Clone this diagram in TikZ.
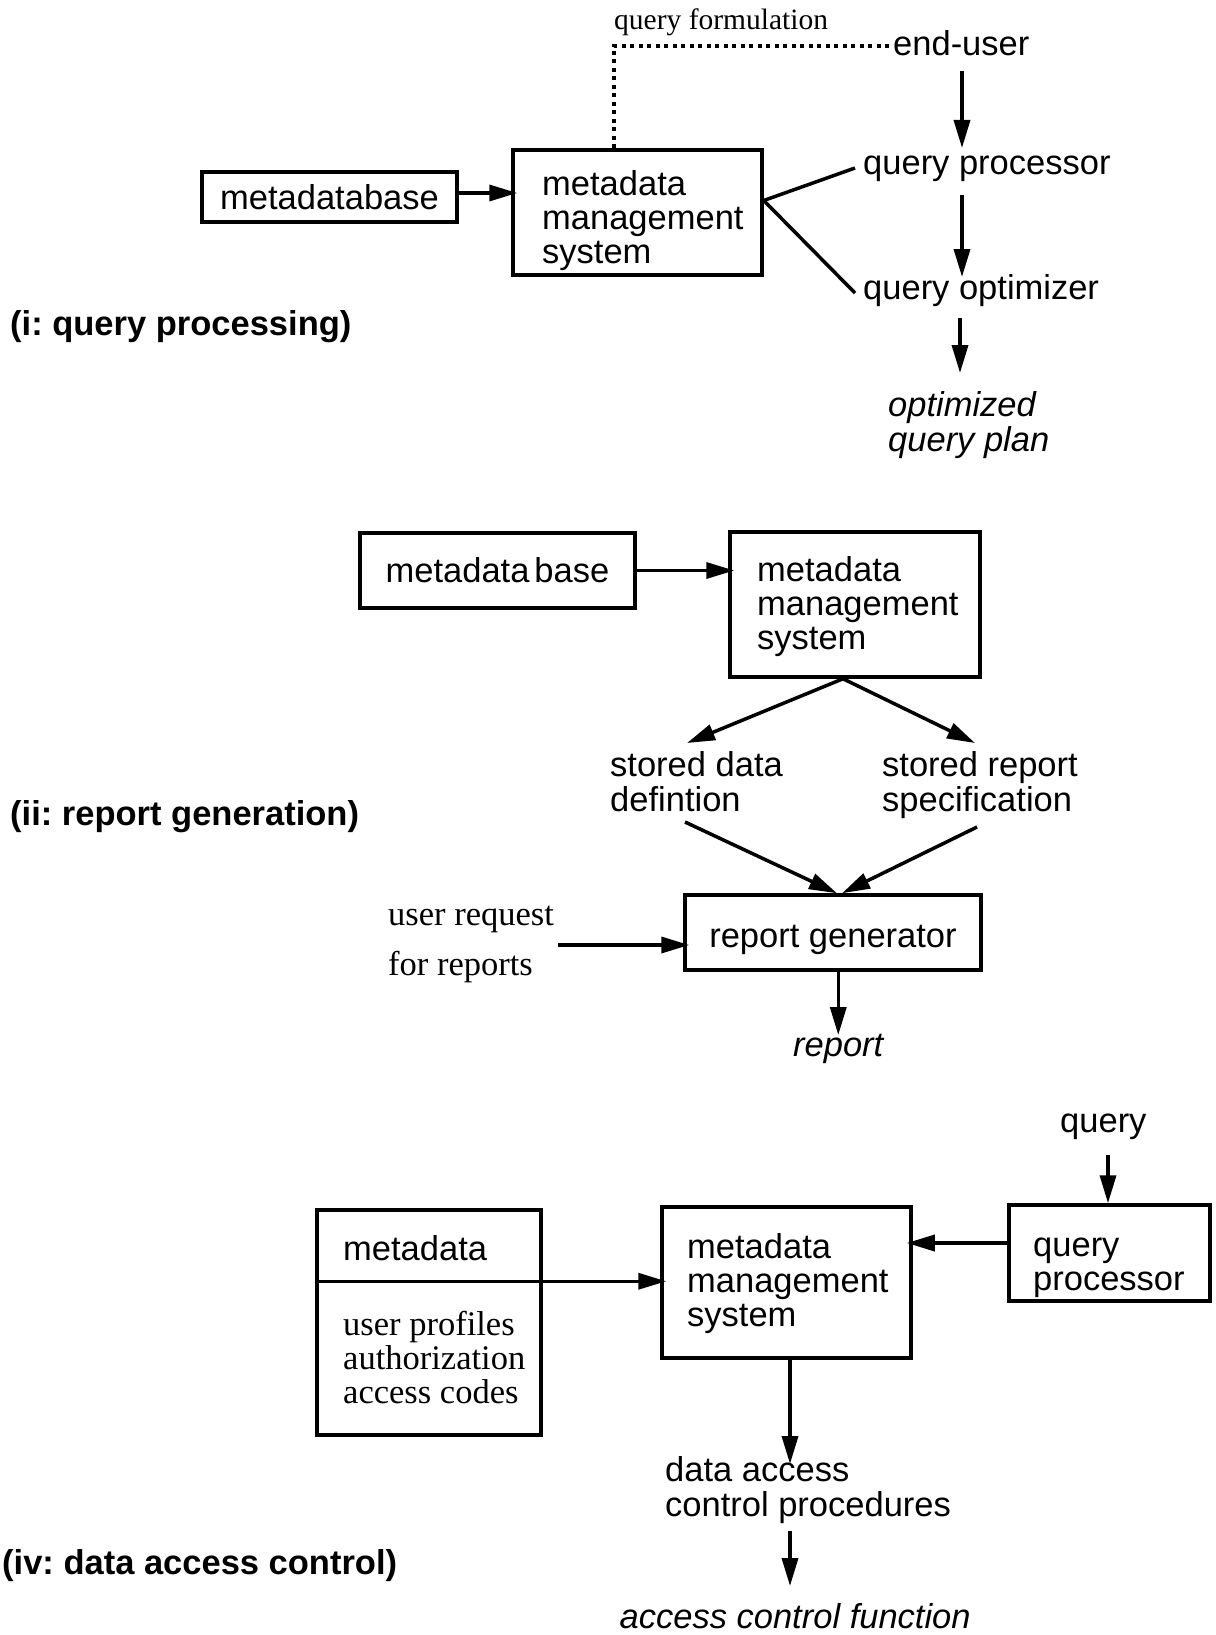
\documentclass[tikz,border=0pt]{standalone}
\usepackage{fontspec}
\setmainfont{Liberation Serif}
\setsansfont{Liberation Sans}
\usetikzlibrary{arrows.meta,fit}
\newcommand\mlines[1]{\begin{tabular}[t]{@{}l@{}}#1\end{tabular}}
\frenchspacing
\begin{document}
\begin{tikzpicture}[x=1pt,y=-1pt,
  box/.style={draw, line width=3.5pt, inner sep=0pt},
  txt/.style={font=\sffamily\fontsize{34.5}{34}\selectfont, inner sep=0pt, anchor=base west},
  itxt/.style={font=\sffamily\itshape\fontsize{34.5}{34}\selectfont, inner sep=0pt, anchor=base west},
  stxt/.style={font=\rmfamily\fontsize{34.5}{34}\selectfont, inner sep=0pt, anchor=base west},
  small/.style={font=\rmfamily\fontsize{29.5}{29.5}\selectfont, inner sep=0pt, anchor=base west},
  lbl/.style={font=\sffamily\bfseries\fontsize{34.5}{34}\selectfont, inner sep=0pt, anchor=base west},
  conn/.style={line width=3.5pt},
  arr/.style={line width=3.5pt, -{Triangle[length=28pt,width=16pt]}},
  dots/.style={line width=4pt, dash pattern=on 4pt off 4.5pt}
]
\useasboundingbox[fill=white] (0,0) rectangle (1215,1635);

% ---------- (i) query processing ----------
\node[box, fit={(202,172) (457,222)}] (mdb1) {};
\node[txt, anchor=base] (mdb1t) at (329.5,209) {metadatabase};
\node[box, fit={(513,150) (762,275)}] (mms1) {};
\node[txt] (mms1t) at (542,195) {\mlines{metadata\\management\\system}};
\node[small] (qf) at (614,30) {query formulation};
\node[txt] (eu) at (893,56) {end-user};
\node[txt] (qp1) at (863,175) {query processor};
\node[txt] (qo1) at (863,299) {query optimizer};
\node[itxt] (plan) at (888,416) {\mlines{optimized\\query plan}};
\node[lbl] (lab1) at (10,335) {(i: query processing)};

\coordinate (a1) at ([yshift=4pt]mdb1.east);
\draw[arr, shorten >=-6pt] (a1) -- (a1 -| mms1.west);
\coordinate (d1) at ([xshift=-23.5pt]mms1.north);
\draw[dots] (d1) |- ([yshift=-2pt]eu.west);
\coordinate (f1) at ([yshift=12pt]mms1.east);
\draw[conn] (f1) -- ([xshift=-8pt,yshift=7pt]qp1.base west);
\draw[conn] (f1) -- ([xshift=-8pt,yshift=6pt]qo1.base west);
\draw[arr] ([xshift=69pt,yshift=-15pt]eu.base west) -- ([xshift=99pt,yshift=27pt]qp1.base west);
\draw[arr] ([xshift=99pt,yshift=-20pt]qp1.base west) -- ([xshift=99pt,yshift=22pt]qo1.base west);
\draw[arr] ([xshift=97pt,yshift=-19pt]qo1.base west) -- ([xshift=72pt,yshift=43pt]plan.base west);

% ---------- (ii) report generation ----------
\node[box, fit={(360,533) (635,608)}] (mdb2) {};
\node[txt, anchor=base] (mdb2t) at (497.5,582) {metadata\hspace{5pt}base};
\node[box, fit={(730,532) (980,677)}] (mms2) {};
\node[txt] (mms2t) at (757,581) {\mlines{metadata\\management\\system}};
\node[txt] (sdd) at (610,776) {\mlines{stored data\\defintion}};
\node[txt] (srs) at (882,776) {\mlines{stored report\\specification}};
\node[box, fit={(685,895) (981,970)}] (rg) {};
\node[txt, anchor=base] (rgt) at (833,947) {report generator};
\node[stxt] (ur) at (388,925) {\mlines{user request\\[16pt]for reports}};
\node[itxt] (rep) at (793,1056) {report};
\node[lbl] (lab2) at (10,825) {(ii: report generation)};

\draw[arr, shorten >=-6pt] (mdb2.east) -- (mdb2.east -| mms2.west);
\coordinate (f2) at ([xshift=-12pt]mms2.south);
\draw[arr] (f2) -- ([xshift=77pt,yshift=33pt]sdd.base west);
\draw[arr] (f2) -- ([xshift=93pt,yshift=33pt]srs.base west);
\draw[arr] ([xshift=75pt,yshift=-46pt]sdd.base west) -- ([xshift=4pt]rg.north);
\draw[arr] ([xshift=95pt,yshift=-51pt]srs.base west) -- ([xshift=9pt]rg.north);
\coordinate (urout) at ([xshift=170pt,yshift=-20pt]ur.base west);
\draw[arr, shorten >=-6pt] (urout) -- (urout -| rg.west);
\draw[arr] (rg.south -| rep.base) -- ([yshift=21pt]rep.base);

% ---------- (iv) data access control ----------
\node[txt] (qlab) at (1060,1132) {query};
\node[box, fit={(1009,1205) (1210,1301)}] (qp3) {};
\node[txt] (qp3t) at (1033,1256) {\mlines{query\\processor}};
\node[box, fit={(662,1207) (911,1358)}] (mms3) {};
\node[txt] (mms3t) at (687,1258) {\mlines{metadata\\management\\system}};
\node[box, fit={(317,1210) (541,1435)}] (md) {};
\node[txt] (mdt) at (343,1260) {metadata};
\node[stxt] (mdl) at (343,1335) {\mlines{user profiles\\authorization\\access codes}};
\node[txt] (dac) at (665,1481) {\mlines{data access\\control procedures}};
\node[itxt] (acf) at (619.5,1628) {access control function};
\node[lbl] (lab4) at (2,1574) {(iv: data access control)};

\coordinate (qin) at ([xshift=48pt,yshift=-23pt]qlab.base west);
\draw[arr] (qin) -- (qin |- qp3.north);
\coordinate (qpo) at ([yshift=10pt]qp3.west);
\draw[arr, shorten >=-6pt] (qpo) -- (qpo -| mms3.east);
\coordinate (mdl1) at ([yshift=-73pt]md.north west);
\coordinate (mdr1) at ([yshift=-73pt]md.north east);
\draw[conn] (mdl1) -- (mdr1);
\draw[arr, shorten >=-6pt] (mdr1) -- (mdr1 -| mms3.west);
\coordinate (down3) at ([xshift=3.5pt]mms3.south);
\draw[arr] (down3) -- ([xshift=125pt,yshift=17pt]dac.base west);
\draw[arr] ([xshift=125pt,yshift=-50pt]dac.base west) -- ([xshift=170.5pt,yshift=42pt]acf.base west);
\end{tikzpicture}
\end{document}
